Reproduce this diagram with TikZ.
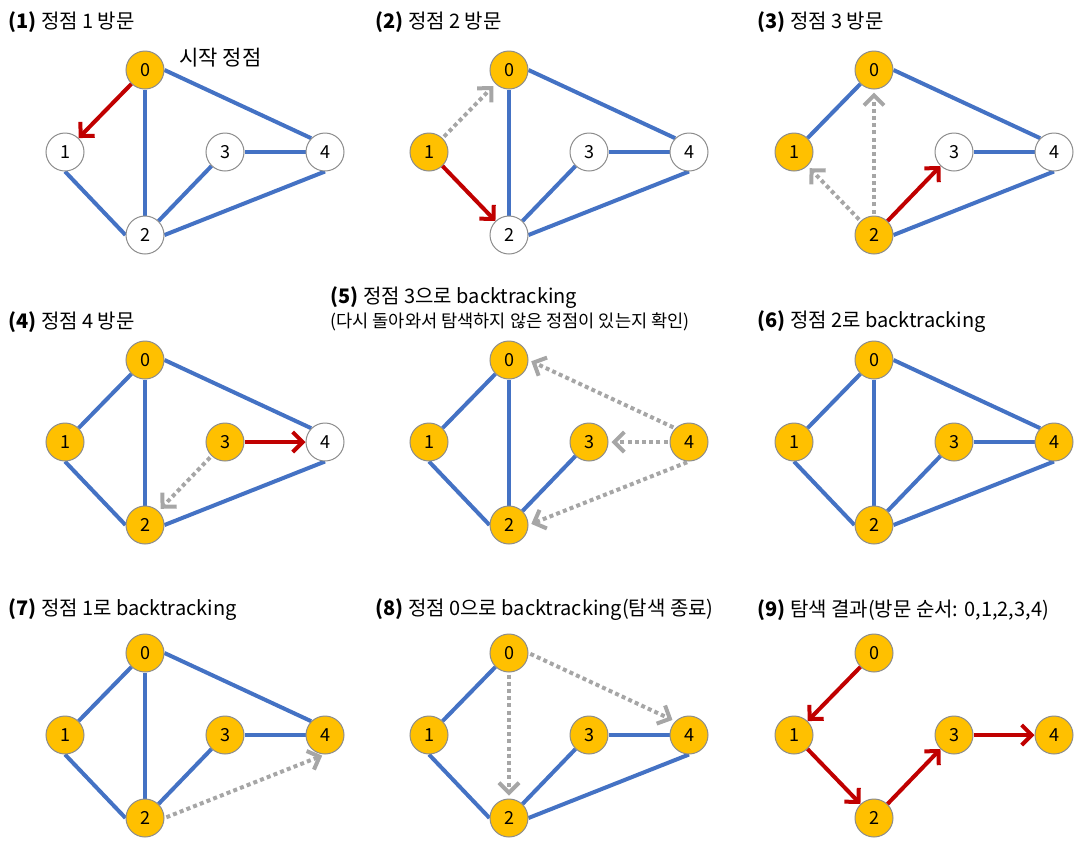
\documentclass[tikz,border=0pt]{standalone}
\usepackage{fontspec}
\setmainfont{Noto Sans CJK KR}
\usetikzlibrary{arrows.meta, backgrounds}
\definecolor{edgeblue}{HTML}{4472C4}
\definecolor{visit}   {HTML}{FFC000}
\definecolor{walk}    {HTML}{C00000}
\definecolor{back}    {HTML}{A6A6A6}
\definecolor{rim}     {HTML}{8C8C8C}

% five vertices of one panel: prefix, then the style of vertex 0..4
\newcommand{\graphnodes}[6]{%
  \node[#2] (#1-0) at (145,70)  {0};
  \node[#3] (#1-1) at (65,152)  {1};
  \node[#4] (#1-2) at (145,235) {2};
  \node[#5] (#1-3) at (225,152) {3};
  \node[#6] (#1-4) at (325,152) {4};}

\begin{document}
\begin{tikzpicture}[
      x=0.5pt, y=-0.5pt,
      vtx/.style  ={circle, draw=rim, line width=0.5pt, minimum size=19pt,
                    inner sep=0pt, font=\fontsize{9}{10}\selectfont},
      seen/.style ={vtx, fill=visit},
      fresh/.style={vtx, fill=white},
      link/.style ={draw=edgeblue, line width=2pt},
      tree/.style ={-{Straight Barb[length=5pt, width=10pt]}, draw=walk, line width=2pt},
      retry/.style={-{Straight Barb[length=5pt, width=10pt]}, draw=back, line width=2pt,
                    dash pattern=on 2pt off 1.6pt, shorten >=1.5pt, shorten <=1pt},
      ttl/.style  ={anchor=west, inner sep=0pt, font=\fontsize{10}{12}\selectfont},
      note/.style ={anchor=west, inner sep=0pt, font=\fontsize{8.8}{10}\selectfont}]

    \useasboundingbox (0,0) rectangle (1089,853);

    % titles
    \node[ttl] (t1) at (8,22)    {\textbf{(1)} 정점 1 방문};
    \node[ttl] (t2) at (375,22)  {\textbf{(2)} 정점 2 방문};
    \node[ttl] (t3) at (757,22)  {\textbf{(3)} 정점 3 방문};
    \node[ttl] (t4) at (8,322)   {\textbf{(4)} 정점 4 방문};
    \node[ttl] (t5) at (330,298) {\textbf{(5)} 정점 3으로 backtracking};
    \node[note] (t5b) at (330,322) {(다시 돌아와서 탐색하지 않은 정점이 있는지 확인)};
    \node[ttl] (t6) at (757,322) {\textbf{(6)} 정점 2로 backtracking};
    \node[ttl] (t7) at (8,610)   {\textbf{(7)} 정점 1로 backtracking};
    \node[ttl] (t8) at (375,610) {\textbf{(8)} 정점 0으로 backtracking(탐색 종료)};
    \node[ttl] (t9) at (757,610) {\textbf{(9)} 탐색 결과(방문 순서: 0,1,2,3,4)};

    % (1)
    \graphnodes{a}{seen}{fresh}{fresh}{fresh}{fresh}
    \node[ttl, font=\fontsize{10.5}{12}\selectfont] (start) at (179,58) {시작 정점};
    \begin{scope}[on background layer]
      \draw[link] (a-0.south) -- (a-2.north);
      \draw[link] (a-0.east) -- (a-4.north west);
      \draw[link] (a-1.south) -- (a-2.west);
      \draw[link] (a-2) -- (a-3);
      \draw[link] (a-2.east) -- (a-4.south);
      \draw[link] (a-3.east) -- (a-4.west);
    \end{scope}
    \draw[tree] (a-0) -- (a-1);

    % (2)
    \begin{scope}[shift={(364,0)}]
      \graphnodes{b}{seen}{seen}{fresh}{fresh}{fresh}
      \begin{scope}[on background layer]
        \draw[link] (b-0.south) -- (b-2.north);
        \draw[link] (b-0.east) -- (b-4.north west);
        \draw[link] (b-2) -- (b-3);
        \draw[link] (b-2.east) -- (b-4.south);
        \draw[link] (b-3.east) -- (b-4.west);
      \end{scope}
      \draw[retry] (b-1) -- (b-0);
      \draw[tree]  (b-1) -- (b-2);
    \end{scope}

    % (3)
    \begin{scope}[shift={(729,0)}]
      \graphnodes{c}{seen}{seen}{seen}{fresh}{fresh}
      \begin{scope}[on background layer]
        \draw[link] (c-0) -- (c-1);
        \draw[link] (c-0.east) -- (c-4.north west);
        \draw[link] (c-2.east) -- (c-4.south);
        \draw[link] (c-3.east) -- (c-4.west);
      \end{scope}
      \draw[retry] (c-2.north) -- (c-0.south);
      \draw[retry] (c-2) -- (c-1);
      \draw[tree]  (c-2) -- (c-3);
    \end{scope}

    % (4)
    \begin{scope}[shift={(0,290)}]
      \graphnodes{d}{seen}{seen}{seen}{seen}{fresh}
      \begin{scope}[on background layer]
        \draw[link] (d-0) -- (d-1);
        \draw[link] (d-0.south) -- (d-2.north);
        \draw[link] (d-0.east) -- (d-4.north west);
        \draw[link] (d-1.south) -- (d-2.west);
        \draw[link] (d-2.east) -- (d-4.south);
      \end{scope}
      \draw[tree]  (d-3.east) -- (d-4.west);
      \draw[retry] (d-3) -- (d-2);
    \end{scope}

    % (5)
    \begin{scope}[shift={(364,290)}]
      \graphnodes{e}{seen}{seen}{seen}{seen}{seen}
      \begin{scope}[on background layer]
        \draw[link] (e-0) -- (e-1);
        \draw[link] (e-0.south) -- (e-2.north);
        \draw[link] (e-1.south) -- (e-2.west);
        \draw[link] (e-2) -- (e-3);
      \end{scope}
      \draw[retry] (e-4.north west) -- (e-0.east);
      \draw[retry] (e-4.west) -- (e-3.east);
      \draw[retry] (e-4.south) -- (e-2.east);
    \end{scope}

    % (6)
    \begin{scope}[shift={(729,290)}]
      \graphnodes{f}{seen}{seen}{seen}{seen}{seen}
      \begin{scope}[on background layer]
        \draw[link] (f-0) -- (f-1);
        \draw[link] (f-0.south) -- (f-2.north);
        \draw[link] (f-0.east) -- (f-4.north west);
        \draw[link] (f-1.south) -- (f-2.west);
        \draw[link] (f-2) -- (f-3);
        \draw[link] (f-2.east) -- (f-4.south);
        \draw[link] (f-3.east) -- (f-4.west);
      \end{scope}
    \end{scope}

    % (7)
    \begin{scope}[shift={(0,583)}]
      \graphnodes{g}{seen}{seen}{seen}{seen}{seen}
      \begin{scope}[on background layer]
        \draw[link] (g-0) -- (g-1);
        \draw[link] (g-0.south) -- (g-2.north);
        \draw[link] (g-0.east) -- (g-4.north west);
        \draw[link] (g-1.south) -- (g-2.west);
        \draw[link] (g-2) -- (g-3);
        \draw[link] (g-3.east) -- (g-4.west);
      \end{scope}
      \draw[retry] (g-2.east) -- (g-4.south);
    \end{scope}

    % (8)
    \begin{scope}[shift={(364,583)}]
      \graphnodes{h}{seen}{seen}{seen}{seen}{seen}
      \begin{scope}[on background layer]
        \draw[link] (h-0) -- (h-1);
        \draw[link] (h-1.south) -- (h-2.west);
        \draw[link] (h-2) -- (h-3);
        \draw[link] (h-2.east) -- (h-4.south);
        \draw[link] (h-3.east) -- (h-4.west);
      \end{scope}
      \draw[retry] (h-0.south) -- (h-2.north);
      \draw[retry] (h-0.east) -- (h-4.north west);
    \end{scope}

    % (9)
    \begin{scope}[shift={(729,583)}]
      \graphnodes{k}{seen}{seen}{seen}{seen}{seen}
      \draw[tree] (k-0) -- (k-1);
      \draw[tree] (k-1) -- (k-2);
      \draw[tree] (k-2) -- (k-3);
      \draw[tree] (k-3.east) -- (k-4.west);
    \end{scope}
  \end{tikzpicture}
\end{document}
